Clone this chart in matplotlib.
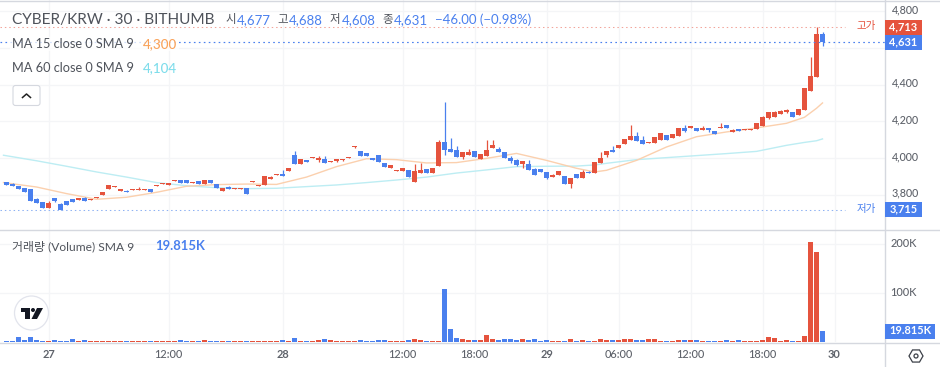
import matplotlib
matplotlib.use("Agg")
import matplotlib.pyplot as plt
from matplotlib.patches import Rectangle, FancyBboxPatch, Circle, Polygon, RegularPolygon

W, H = 940, 367
FONT = ['Lato', 'Noto Sans CJK KR', 'DejaVu Sans']
plt.rcParams['font.family'] = FONT

# ---------- data ----------
opens = [3869,3858,3847,3836,3831,3777,3760,3728,3782,3749,3766,3777,3771,3782,3771,3782,3798,3831,3842,3820,
         3820,3826,3826,3826,3831,3847,3858,3853,3875,3880,3880,3864,3875,3858,3880,3858,3820,3842,3831,3831,
         3836,3869,3847,3853,3886,3907,3913,3929,4016,3967,3989,4000,3989,3995,3978,3984,3989,4000,4060,4038,
         4027,4000,4016,3973,3945,3929,3929,3935,3869,3918,3940,3918,3956,4087,4049,4044,4005,4016,4038,3995,
         4011,4055,4049,4033,4000,3989,3967,3967,3940,3940,3924,3896,3907,3902,3858,3913,3891,3924,3918,3973,
         4016,4044,4055,4076,4098,4120,4098,4082,4082,4098,4125,4109,4120,4164,4164,4164,4153,4164,4147,4164,
         4180,4142,4158,4153,4153,4158,4174,4218,4223,4240,4251,4251,4234,4262,4365,4441,4677]
closes = [3853,3847,3831,3815,3766,3755,3728,3755,3766,3715,3744,3760,3782,3766,3777,3787,3815,3853,3847,3831,
          3815,3831,3831,3831,3815,3853,3864,3864,3880,3864,3864,3869,3858,3880,3864,3836,3836,3831,3836,3836,
          3804,3875,3853,3902,3896,3913,3902,3945,3967,3995,3978,4005,4000,3973,3984,3995,3995,4005,4065,4011,
          4011,3989,3978,3951,3962,3935,3945,3896,3929,3935,3918,3945,4087,4044,4033,4005,4033,4033,4005,4022,
          4044,4071,4033,4000,3984,3962,3984,3935,3907,3924,3891,3907,3929,3858,3891,3891,3924,3918,3978,4000,
          4038,4033,4071,4104,4120,4093,4076,4087,4114,4136,4098,4131,4164,4147,4174,4147,4164,4153,4131,4169,
          4164,4153,4147,4158,4158,4191,4223,4251,4251,4256,4262,4223,4267,4382,4447,4677,4631]
# wicks beyond the body: index -> value
highs = {1:3866,5:3782,7:3766,9:3755,13:3787,20:3826,22:3842,37:3847,44:3902,46:3935,48:4038,52:4011,53:4011,
         69:3973,68:3967,72:4098,73:4305,74:4109,75:4065,77:4049,80:4098,81:4098,82:4060,84:4011,85:3995,87:3989,
         88:3945,91:3913,96:3935,97:3929,99:4033,101:4065,104:4180,105:4142,106:4120,113:4180,116:4174,119:4191,
         121:4158,126:4229,128:4256,129:4262,130:4267,134:4550,135:4713,136:4688}
lows = {8:3760,52:3978,55:3978,56:3984,58:4055,73:4016,76:3995,84:3973,85:3956,86:3945,90:3886,94:3836,100:4005,
        113:4142,117:4142,127:4213,130:4245,136:4608}
volumes = [2,2,10,4,10,4,2,2,4,2,2,6,2,4,2,2,2,2,2,2,
           2,2,2,2,2,2,2,2,2,4,2,2,2,4,2,2,2,2,2,2,
           2,2,2,2,2,2,4,2,8,2,2,2,4,6,4,2,2,2,2,4,
           2,2,4,4,2,2,2,4,6,4,2,2,2,109,26,8,6,4,4,4,
           14,6,4,6,6,4,6,4,6,2,4,2,2,2,6,2,4,2,2,6,
           4,4,4,6,6,4,4,6,6,2,2,2,4,4,4,4,2,2,2,2,
           4,2,4,2,2,2,4,10,8,2,4,2,2,12,205,184,23]
ma_idx = [-0.5,5,10,15,20,25,30,35,40,45,50,55,60,65,70,75,80,85,90,95,98,100,105,110,115,120,125,130,133,135,136]
ma15 = [3866,3842,3806,3775,3786,3813,3846,3855,3858,3856,3896,3953,3996,3991,3973,3975,3998,4025,3987,3944,3924,
        3933,3987,4060,4116,4142,4164,4189,4222,4271,4300]
ma60 = [4015,3985,3955,3924,3896,3866,3849,3838,3833,3835,3844,3853,3866,3880,3896,3918,3935,3953,3955,3956,3962,
        3971,3991,4002,4013,4024,4036,4069,4085,4094,4104]
tick_idx = [7,27,46,66,78,90,102,114,126,138]
tick_labels = ['27','12:00','28','12:00','18:00','29','06:00','12:00','18:00','30']
tick_bold = ['27','28','29','30']
price_ticks = [3800,4000,4200,4400,4600,4800]
price_labels = [3800,4000,4200,4400,4800]
vol_ticks = [100,200]
high_price, close_price, low_price = 4713, 4631, 3715
vol_sma = '19.815K'

RED, BLUE = '#E5533D', '#4A80EE'
GRID = '#F4F5F7'
AXC = '#D5D8DF'
TXT = '#5F636B'

fig = plt.figure(figsize=(W/100, H/100), dpi=100, facecolor='white')

def make_ax(x0, y0, x1, y1):
    return fig.add_axes([x0/W, 1-y1/H, (x1-x0)/W, (y1-y0)/H])

def idx_lim(x0, x1):
    return (x0-6.5)/6, (x1-6.5)/6

# ---------- price panel ----------
px = make_ax(0, 0, 885, 229.5)
px.set_xlim(*idx_lim(0, 885))
SL = 0.1835
px.set_ylim(4000+(158-229.5)/SL, 4000+158/SL)
n = len(opens)
xs = list(range(n))
cols = [RED if c >= o else BLUE for o, c in zip(opens, closes)]
for i in xs:
    hi = highs.get(i, max(opens[i], closes[i]))
    lo = lows.get(i, min(opens[i], closes[i]))
    if hi > lo:
        px.vlines(i, lo, hi, color=cols[i], lw=0.9, zorder=3)
px.bar(xs, [abs(c-o) for o, c in zip(opens, closes)], bottom=[min(o, c) for o, c in zip(opens, closes)],
       width=0.8, color=cols, linewidth=0, zorder=4)
px.plot(ma_idx, ma60, color='#BDEDF3', lw=1.0, zorder=2, solid_joinstyle='round')
px.plot(ma_idx, ma15, color='#FBD0AE', lw=1.0, zorder=2, solid_joinstyle='round')
px.set_yticks(price_ticks)
px.set_xticks(tick_idx)

# ---------- volume panel ----------
vx = make_ax(0, 230, 885, 342)
vx.set_xlim(*idx_lim(0, 885))
vx.set_ylim(0, 112/0.49)
vx.bar(xs, volumes, width=0.8, color=cols, linewidth=0, zorder=3)
vx.set_yticks(vol_ticks)
vx.set_xticks(tick_idx)

for a in (px, vx):
    a.grid(True, color=GRID, lw=0.9, zorder=0)
    a.set_axisbelow(True)
    a.tick_params(length=0, labelleft=False, labelbottom=False)
    for s in a.spines.values():
        s.set_visible(False)

# ---------- overlay in pixel coordinates ----------
ov = fig.add_axes([0, 0, 1, 1], zorder=10)
ov.set_xlim(0, W); ov.set_ylim(H, 0); ov.axis('off'); ov.patch.set_alpha(0)

def T(x, y, s, size=11, color=TXT, ha='left', weight='normal', **k):
    ov.text(x, y, s, fontsize=size*0.72, color=color, ha=ha, va='center', fontweight=weight, family=FONT, **k)

# frame lines
ov.plot([885, 885], [0, H], color=AXC, lw=1.0, zorder=1)
ov.plot([0, W], [229.5, 229.5], color=AXC, lw=1.0, zorder=1)
ov.plot([0, W], [342.5, 342.5], color=AXC, lw=1.0, zorder=1)
ov.plot([0, W], [0.5, 0.5], color=AXC, lw=1.0, zorder=1)

def py(p):
    return 158-(p-4000)*SL

# price guide lines
DOT = (0, (1.4, 2.8))
ov.plot([0, 845], [py(high_price)]*2, color='#F2A49A', lw=0.75, ls=DOT, zorder=1)
ov.plot([0, 885], [py(close_price)]*2, color=BLUE, lw=0.85, ls=DOT, zorder=1)
ov.plot([0, 845], [py(low_price)]*2, color='#8FB2F3', lw=0.75, ls=DOT, zorder=1)
T(866, py(high_price)-1, '고가', size=10.5, color=RED, ha='center')
T(866, py(low_price)-1, '저가', size=10.5, color=BLUE, ha='center')

# translucent legend backing so the guide line does not cut the value text
ov.add_patch(Rectangle((10, 37), 169, 14, fc='white', alpha=0.75, lw=0, zorder=2))

# axis labels
for p in price_labels:
    T(919, py(p)-1.5, f'{p:,}', size=10.7, ha='right', weight='medium', zorder=3)
for v in vol_ticks:
    T(917, 342.5-v*0.49-1, f'{v}K', size=11, ha='right', weight='medium', zorder=3)
for i, s in zip(tick_idx, tick_labels):
    T(6.5+6*i, 354.5, s, size=11, ha='center', weight='bold' if s in tick_bold else 'medium', zorder=3)

# price tags
def tag(x0, y0, x1, y1, s, color):
    ov.add_patch(Rectangle((x0, y0), x1-x0, y1-y0, color=color, lw=0, zorder=4))
    T((x0+x1)/2, (y0+y1)/2-0.5, s, size=11, color='white', ha='center', weight='bold', zorder=5)
tag(885, 20, 922, 35, f'{high_price:,}', RED)
tag(885, 35, 922, 50, f'{close_price:,}', BLUE)
tag(885, 202, 922, 217, f'{low_price:,}', BLUE)
tag(885, 324, 935, 339, vol_sma, BLUE)

# legends
T(12, 20, 'CYBER/KRW · 30 · BITHUMB', size=15.4, color='#4F535B')
for x, s in [(225, '시'), (277, '고'), (330, '저'), (382, '종')]:
    T(x, 20, s, size=11.5, color='#4F535B')
for x, s in [(237, '4,677'), (289, '4,688'), (342, '4,608'), (394, '4,631'), (435, '−46.00 (−0.98%)')]:
    T(x, 20, s, size=13.3, color=BLUE)
T(12, 44, 'MA 15 close 0 SMA 9', size=12.8, color='#4F535B', zorder=3)
T(143, 44, '4,300', size=13.5, color='#F9A35B', weight='medium', zorder=3)
T(12, 68, 'MA 60 close 0 SMA 9', size=12.8, color='#4F535B')
T(143, 68, '4,104', size=13.5, color='#7FDDEB', weight='medium')
T(12, 246, '거래량 (Volume) SMA 9', size=12, color='#4F535B')
T(155, 246, vol_sma, size=13, color=BLUE, weight='bold')

# collapse button
ov.add_patch(FancyBboxPatch((13, 85.5), 27, 20, boxstyle='round,pad=0,rounding_size=2.5', fc='white', ec='#D5D8DF', lw=0.8, zorder=3))
ov.plot([22.5, 26.5, 30.5], [97.5, 94, 97.5], color='#222222', lw=1.1, zorder=4)

# TV logo
ov.add_patch(Circle((31.5, 313), 17, fc='white', ec='#E2E4EC', lw=0.9, zorder=3))
ov.add_patch(Polygon([(21, 308), (30, 308), (30, 319), (25, 319), (25, 312), (21, 312)], fc='#131722', lw=0, zorder=4))
ov.add_patch(Circle((33, 310), 2, fc='#131722', lw=0, zorder=4))
ov.add_patch(Polygon([(37, 308), (43, 308), (37, 319), (31.5, 319)], fc='#131722', lw=0, zorder=4))

# settings icon
ov.add_patch(RegularPolygon((916, 356), 6, radius=7, orientation=3.14159/6, fc='white', ec='#3C4048', lw=0.9, zorder=3))
ov.add_patch(Circle((916, 356), 2, fc='white', ec='#3C4048', lw=0.9, zorder=4))

fig.savefig('out.png', dpi=100, facecolor='white')
